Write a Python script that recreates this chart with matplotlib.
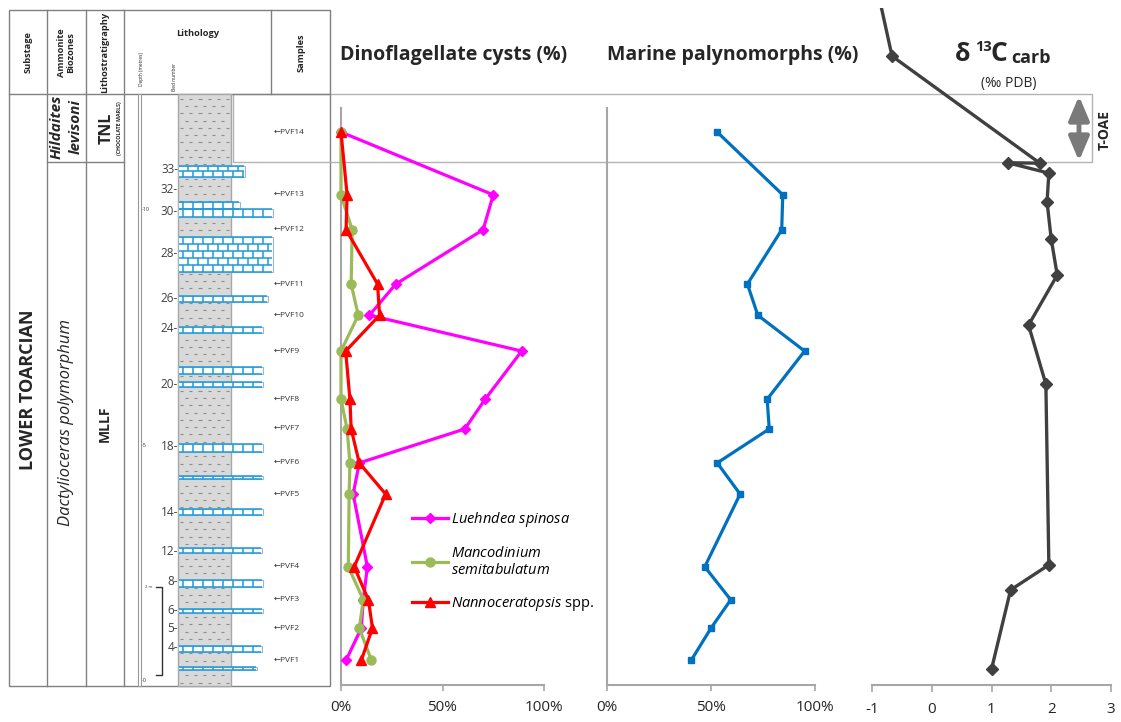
import matplotlib
matplotlib.use('Agg')
import matplotlib.pyplot as plt
from matplotlib import patches
from matplotlib.collections import LineCollection
from matplotlib.ticker import FuncFormatter
import numpy as np

plt.rcParams['font.family'] = ['Open Sans', 'DejaVu Sans']
plt.rcParams['mathtext.fontset'] = 'custom'
plt.rcParams['mathtext.it'] = 'Open Sans:italic'
plt.rcParams['mathtext.rm'] = 'Open Sans'
plt.rcParams['mathtext.bf'] = 'Open Sans:bold'
plt.rcParams['axes.unicode_minus'] = False

# ---------------- data ----------------
samples = ['PVF1', 'PVF2', 'PVF3', 'PVF4', 'PVF5', 'PVF6', 'PVF7',
           'PVF8', 'PVF9', 'PVF10', 'PVF11', 'PVF12', 'PVF13', 'PVF14']
sample_depth = [0.44, 1.12, 1.72, 2.42, 3.96, 4.62, 5.34,
                5.97, 6.99, 7.75, 8.41, 9.56, 10.30, 11.63]   # metres
luehndea = [2.5, 10, 11, 13, 6, 9, 61, 71, 89, 14, 27, 70, 75, 0]
mancodinium = [15, 9, 11, 3.6, 4, 4.4, 3, 0, 0, 8.5, 5, 5.5, 0, 0]
nannoceratopsis = [10, 15.5, 13.5, 6.5, 22, 9, 5, 4.4, 2.3, 19, 18, 2.5, 3, 0]
marine = [40.5, 50, 59.5, 47, 64, 53, 78, 77, 95, 72.5, 67.5, 84, 84.5, 53]

d13c_depth = [0.25, 1.93, 2.46, 6.29, 7.54, 8.60, 9.36, 10.15, 10.76,
              10.98, 10.97, 13.24, 15.0]
d13c = [1.00, 1.32, 1.96, 1.91, 1.62, 2.10, 2.00, 1.93, 1.96,
        1.27, 1.81, -0.665, -0.97]

# limestone beds (base, top in metres) and their drawn right edge
bed_base = [0.23, 0.61, 1.44, 1.99, 2.71, 3.52, 4.28, 4.85, 6.23, 6.50,
            7.37, 8.03, 8.67, 9.83, 10.00, 10.68]
bed_top = [0.30, 0.74, 1.53, 2.14, 2.82, 3.64, 4.34, 5.02, 6.33, 6.65,
           7.50, 8.16, 9.41, 10.00, 10.15, 10.91]
bed_right = [257, 262, 263, 263, 262, 263, 263, 263, 263, 263,
             263, 268, 273, 273, 240, 245]

bed_num = ['4', '5', '6', '8', '12', '14', '18', '20', '24', '26', '28', '30', '32', '33']
bed_num_depth = [0.70, 1.12, 1.50, 2.10, 2.75, 3.58, 4.96, 6.29, 7.46, 8.11,
                 9.05, 9.94, 10.42, 10.83]

pct_ticks = [0, 50, 100]
d13c_ticks = [-1, 0, 1, 2, 3]

# ---------------- layout ----------------
W, H, DPI = 1121, 722, 100
ZERO_PX, M_PX = 681.0, 47.2
Y_TOP, Y_BOT = 8, 685


def dep(ypx):
    return (ZERO_PX - ypx) / M_PX


YLIM = (dep(Y_BOT), dep(Y_TOP))

fig = plt.figure(figsize=(W / DPI, H / DPI), dpi=DPI)


def px_axes(x0, y0, x1, y1, z=1):
    a = fig.add_axes([x0 / W, 1 - y1 / H, (x1 - x0) / W, (y1 - y0) / H], zorder=z)
    a.patch.set_alpha(0)
    return a


GRAY = '#808080'
LGRAY = '#b3b3b3'
SPINE = '#a6a6a6'
BLUE = '#1e9ad8'
TXT = '#262626'

bg = px_axes(0, 0, W, H, z=0)
bg.set_xlim(0, W)
bg.set_ylim(H, 0)
bg.axis('off')

# table frame
bg.add_patch(patches.Rectangle((9, 10), 321, 676, fill=False, ec=GRAY, lw=1))
bg.plot([9, 330], [94, 94], color=GRAY, lw=1)
for x in (47, 86, 124):
    bg.plot([x, x], [10, 686], color=GRAY, lw=1)
bg.plot([271, 271], [10, 94], color=GRAY, lw=1)
bg.plot([47, 124], [162, 162], color=GRAY, lw=1)
# TNL interval box across panels
bg.add_patch(patches.Rectangle((233, 94), 1092 - 233, 68, fill=False, ec=LGRAY, lw=1))

# header texts
hdr = dict(fontsize=6.7, fontweight='bold', color=TXT, ha='center', va='center')
bg.text(28, 52, 'Substage', rotation=90, **hdr)
bg.text(66, 53, 'Ammonite\nBiozones', rotation=90, linespacing=1.0, **hdr)
bg.text(105, 52, 'Lithostratigraphy', rotation=90, **hdr)
bg.text(198, 34, 'Lithology', **hdr)
bg.text(301, 53, 'Samples', rotation=90, **hdr)
bg.text(141, 69, 'Depth (metres)', rotation=90, fontsize=3.5, color=TXT, ha='center', va='center')
bg.text(174, 77, 'Bed number', rotation=90, fontsize=3.5, color=TXT, ha='center', va='center')

bg.text(28, 390, 'LOWER TOARCIAN', rotation=90, fontsize=13, fontweight='bold',
        color=TXT, ha='center', va='center')
bg.text(66, 127, 'Hildaites\nlevisoni', rotation=90, fontsize=11, fontweight='bold',
        fontstyle='italic', color=TXT, ha='center', va='center', linespacing=1.45)
bg.text(107, 128, 'TNL', rotation=90, fontsize=11.5, fontweight='bold', color=TXT,
        ha='center', va='center')
bg.text(120, 128, '(CHOCOLATE MARLS)', rotation=90, fontsize=3.8, fontweight='bold',
        color=TXT, ha='center', va='center')
bg.text(66, 423, 'Dactylioceras polymorphum', rotation=90, fontsize=12,
        fontstyle='italic', color=TXT, ha='center', va='center')
bg.text(105, 424, 'MLLF', rotation=90, fontsize=10, fontweight='bold', color=TXT,
        ha='center', va='center')

# panel titles
bg.text(340, 55, 'Dinoflagellate cysts (%)', fontsize=14, fontweight='bold',
        color=TXT, ha='left', va='center')
bg.text(607, 55, 'Marine palynomorphs (%)', fontsize=14, fontweight='bold',
        color=TXT, ha='left', va='center')
bg.text(955, 61, '\u03b4', fontsize=18, fontweight='bold', color=TXT, ha='left', va='baseline')
bg.text(975, 51, '13', fontsize=10.5, fontweight='bold', color=TXT, ha='left', va='baseline')
bg.text(990, 61, 'C', fontsize=19, fontweight='bold', color=TXT, ha='left', va='baseline')
bg.text(1011, 63, 'carb', fontsize=13, fontweight='bold', color=TXT, ha='left', va='baseline')
bg.text(1009, 83, '(\u2030 PDB)', fontsize=10, color=TXT, ha='center', va='center')

# T-OAE arrow
bg.add_patch(patches.FancyArrowPatch((1079, 161), (1079, 96),
                                     arrowstyle='<|-|>,head_length=0.8,head_width=0.34',
                                     mutation_scale=18, lw=3.5, color='#7a7a7a',
                                     shrinkA=0, shrinkB=0))
bg.text(1105, 130, 'T-OAE', rotation=90, fontsize=10, fontweight='bold', color=TXT,
        ha='center', va='center')

# ---------------- lithology log ----------------
lax = px_axes(124, Y_TOP, 330, Y_BOT, z=1)
lax.set_xlim(124, 330)
lax.set_ylim(YLIM)
lax.axis('off')

log_top = dep(94)
log_bot = dep(686)
lax.add_patch(patches.Rectangle((178, log_bot), 53, log_top - log_bot, fc='#d9d9d9',
                                ec='#a6a6a6', lw=1, zorder=1, clip_on=False))
# marl dash pattern
segs = []
step = 7.3 / M_PX
for i, yy in enumerate(np.arange(log_bot + 0.07, log_top - 0.02, step)):
    off = 0 if i % 2 == 0 else 4.5
    for xx in np.arange(180 + off, 228, 9.2):
        segs.append([(xx, yy), (xx + 3.2, yy)])
lax.add_collection(LineCollection(segs, colors='#8c8c8c', lw=0.8, zorder=2))

# limestone beds
for b, t, xr in zip(bed_base, bed_top, bed_right):
    x0 = 178
    nrows = max(1, int(round((t - b) * M_PX / 7.0)))
    rh = (t - b) / nrows
    lax.add_patch(patches.Rectangle((x0, b), xr - x0, t - b, fc='white', ec='#9fb8c8',
                                    lw=0.8, zorder=3))
    bs = []
    for i in range(nrows + 1):
        bs.append([(x0 + 1, b + i * rh), (xr - 1, b + i * rh)])
    for i in range(nrows):
        off = 0 if i % 2 == 0 else 5
        for xx in np.arange(x0 + 5 + off, xr - 1, 10):
            bs.append([(xx, b + i * rh), (xx, b + (i + 1) * rh)])
    lax.add_collection(LineCollection(bs, colors=BLUE, lw=1.1, zorder=4))

# bed numbers
for lab, d in zip(bed_num, bed_num_depth):
    lax.text(178, d, lab + '-', fontsize=8.5, color='#404040', ha='right', va='center')

# depth scale
lax.add_patch(patches.Rectangle((138, log_bot), 3, log_top - log_bot, fc='white',
                                ec='#999999', lw=0.8, zorder=1, clip_on=False))
for v in (0, 5, 10):
    lax.text(141.5, v, '-' + str(v), fontsize=4, color='#404040', ha='left', va='center')
lax.plot([156, 162, 162, 156], [2, 2, 0.13, 0.13], color='#333333', lw=1)
lax.text(149, 2, '2 m', fontsize=3, color='#404040', ha='center', va='center')

# samples
for lab, d in zip(samples, sample_depth):
    lax.text(274, d, '\u2190' + lab, fontsize=6, color='#333333', ha='left', va='center')


# ---------------- data panels ----------------
def style_pct(ax):
    ax.set_xlim(0, 100)
    ax.set_ylim(YLIM)
    for s in ('top', 'right'):
        ax.spines[s].set_visible(False)
    for s in ('left', 'bottom'):
        ax.spines[s].set_color(SPINE)
        ax.spines[s].set_linewidth(1.5)
    ax.spines['left'].set_bounds(YLIM[0], dep(108))
    ax.set_yticks([])
    ax.set_xticks(pct_ticks)
    ax.xaxis.set_major_formatter(FuncFormatter(lambda v, p: '%d%%' % v))
    ax.tick_params(axis='x', direction='out', length=4, width=1.2, color=SPINE,
                   labelsize=11, labelcolor=TXT, pad=7)


dax = px_axes(341, Y_TOP, 544, Y_BOT, z=2)
style_pct(dax)
l1, = dax.plot(luehndea, sample_depth, color='#ff00ff', lw=2.3, marker='D', ms=5,
               clip_on=False, zorder=3)
l2, = dax.plot(mancodinium, sample_depth, color='#9bbb59', lw=2.3, marker='o', ms=6.5,
               clip_on=False, zorder=4)
l3, = dax.plot(nannoceratopsis, sample_depth, color='#ff0000', lw=2.3, marker='^', ms=7.5,
               clip_on=False, zorder=5)
dax.legend([l1, l2, l3],
           [r'$\mathit{Luehndea\ spinosa}$',
            r'$\mathit{Mancodinium}$' + '\n' + r'$\mathit{semitabulatum}$',
            r'$\mathit{Nannoceratopsis}$ spp.'],
           loc='upper left', bbox_to_anchor=((412 - 341) / 203, (Y_BOT - 510) / (Y_BOT - Y_TOP)),
           frameon=False, borderpad=0, borderaxespad=0, handlelength=2.5,
           handletextpad=0.15, labelspacing=1.15, fontsize=10.5, numpoints=1)

max_ = px_axes(607, Y_TOP, 815, Y_BOT, z=2)
style_pct(max_)
max_.plot(marine, sample_depth, color='#0070c0', lw=2.3, marker='s', ms=4.5,
          clip_on=False, zorder=3)

cax = px_axes(872, Y_TOP, 1111, Y_BOT, z=2)
cax.set_xlim(-1, 3)
cax.set_ylim(YLIM)
for s in ('top', 'right', 'left'):
    cax.spines[s].set_visible(False)
cax.spines['bottom'].set_color(SPINE)
cax.spines['bottom'].set_linewidth(1.5)
cax.set_yticks([])
cax.set_xticks(d13c_ticks)
cax.tick_params(axis='x', direction='out', length=5, width=1.2, color=SPINE,
                labelsize=11, labelcolor=TXT, pad=7)
cax.plot(d13c, d13c_depth, color='#404040', lw=2.4, marker='D', ms=6, zorder=3)

fig.savefig('out.png', dpi=DPI)
